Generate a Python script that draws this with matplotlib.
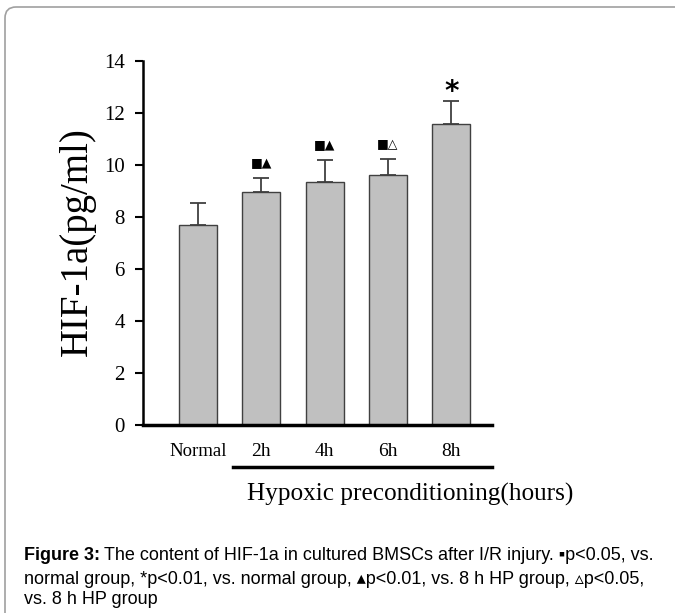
import matplotlib
matplotlib.use("Agg")
import matplotlib.pyplot as plt
from matplotlib.patches import PathPatch
from matplotlib.path import Path
from matplotlib.lines import Line2D

categories = ["Normal", "2h", "4h", "6h", "8h"]
values = [7.7, 8.97, 9.33, 9.62, 11.57]
errors = [0.82, 0.52, 0.84, 0.60, 0.90]
annotations = ["", "\u25a0\u25b2", "\u25a0\u25b2", "\u25a0\u25b3", "*"]
yticks = [0, 2, 4, 6, 8, 10, 12, 14]

W, H = 675, 613
fig = plt.figure(figsize=(W / 100, H / 100), dpi=100)
fig.patch.set_facecolor("white")

def fx(px):
    return px / W

def fy(py):
    return 1 - py / H

# border: left and top edges with rounded corner
verts = [(fx(5), fy(613)), (fx(5), fy(18)), (fx(5), fy(7)), (fx(16), fy(7)), (fx(680), fy(7))]
codes = [Path.MOVETO, Path.LINETO, Path.CURVE3, Path.CURVE3, Path.LINETO]
fig.patches.append(PathPatch(Path(verts, codes), transform=fig.transFigure, fill=False,
                             edgecolor="#a0a0a0", linewidth=1.2))

ax = fig.add_axes([fx(143), fy(425), (491.7 - 143) / W, (425 - 60.7) / H])
x = list(range(len(categories)))
ax.bar(x, values, width=0.6, color="#c0c0c0", edgecolor="#404040", linewidth=1.0, zorder=2)
ax.errorbar(x, values, yerr=[[0] * len(values), errors], fmt="none",
            ecolor="#404040", elinewidth=1.3, capsize=6, capthick=1.3, zorder=1)

ax.set_xlim(-0.87, 4.64)
ax.set_ylim(0, 14)
ax.set_yticks(yticks)
ax.set_yticklabels([str(t) for t in yticks], fontfamily="Liberation Serif", fontsize=15)
ax.tick_params(axis="y", direction="out", length=6, width=1.5, pad=7)
ax.set_xticks([])
for s in ["top", "right"]:
    ax.spines[s].set_visible(False)
ax.spines["left"].set_linewidth(1.8)
ax.spines["bottom"].set_linewidth(2.5)
ax.patch.set_alpha(0)

# category labels
for i, c in enumerate(categories):
    ax.annotate(c, (i, 0), xytext=(0, -22), textcoords="offset points",
                ha="center", va="baseline", fontfamily="Liberation Serif",
                fontsize=13.5 if i == 0 else 14, annotation_clip=False)

# significance marks
for i, a in enumerate(annotations):
    if not a:
        continue
    if a == "*":
        ax.annotate(a, (i, values[i] + errors[i]), xytext=(0, 6), textcoords="offset points",
                    ha="center", va="center", fontsize=20, fontweight="bold",
                    fontfamily="DejaVu Sans", annotation_clip=False)
    else:
        ax.annotate(a, (i, values[i] + errors[i]), xytext=(0, 6), textcoords="offset points",
                    ha="center", va="bottom", fontsize=9, fontfamily="DejaVu Sans",
                    annotation_clip=False)

# y label
fig.text(fx(77), fy(242), "HIF-1a(pg/ml)", rotation=90, ha="center", va="center",
         fontfamily="Liberation Serif", fontsize=28)

# bracket line under HP groups
fig.add_artist(Line2D([fx(233), fx(492)], [fy(467), fy(467)],
                      transform=fig.transFigure, color="black", linewidth=2.5))
fig.text(fx(410), fy(494), "Hypoxic preconditioning(hours)", ha="center", va="center",
         fontfamily="Liberation Serif", fontsize=18.2)

# caption
fam = ["Liberation Sans", "DejaVu Sans"]
cap_fs = 13
fig.canvas.draw()
r = fig.canvas.get_renderer()
t0 = fig.text(fx(24), fy(556), "Figure 3:", fontweight="bold", fontsize=cap_fs,
              family=fam, va="center", ha="left")
bb = t0.get_window_extent(renderer=r)
x1 = bb.x1 / W + 4 / W
fig.text(x1, fy(556),
         "The content of HIF-1a in cultured BMSCs after I/R injury. \u25aap<0.05, vs.",
         fontsize=cap_fs, family=fam, va="center", ha="left")
fig.text(fx(24), fy(579),
         "normal group, *p<0.01, vs. normal group, \u25b4p<0.01, vs. 8 h HP group, \u25b5p<0.05,",
         fontsize=cap_fs, family=fam, va="center", ha="left")
fig.text(fx(24), fy(600), "vs. 8 h HP group",
         fontsize=cap_fs, family=fam, va="center", ha="left")

fig.savefig("out.png", dpi=100)
